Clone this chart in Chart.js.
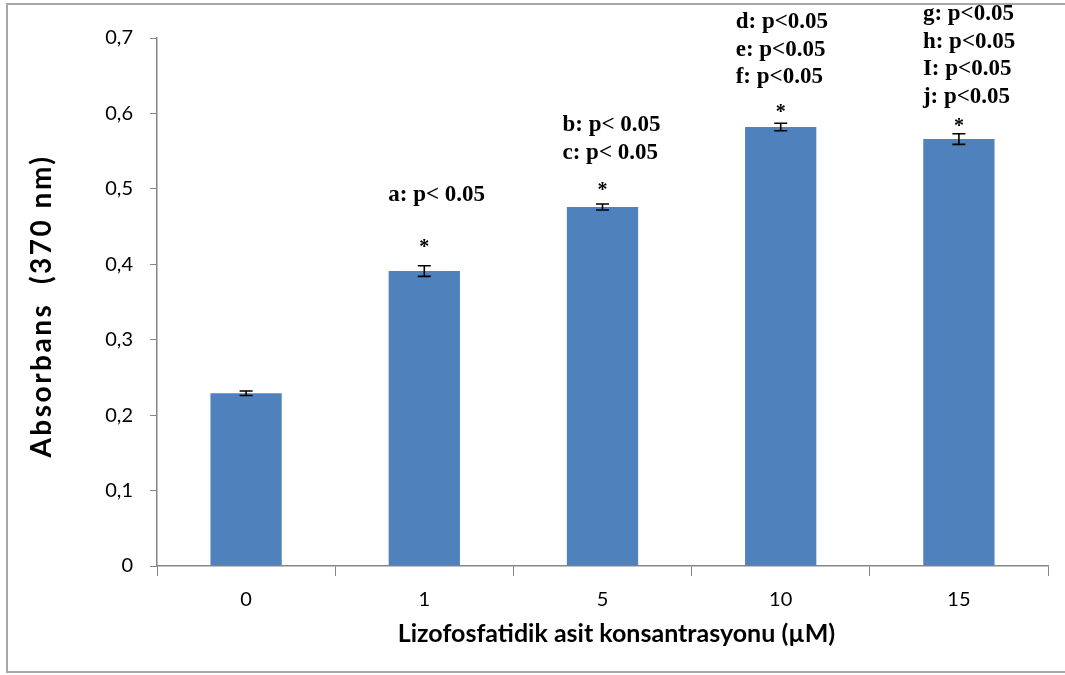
<!DOCTYPE html>
<html><head><meta charset="utf-8">
<script src="https://cdn.jsdelivr.net/npm/chart.js@4.4.0/dist/chart.umd.min.js"></script>
<style>
html,body{margin:0;padding:0;background:#fff;overflow:hidden}
#wrap{position:relative;width:1065px;height:675px}
#frame{position:absolute;left:6px;top:3px;width:1070px;height:670px;border:2px solid #a6a6a6;box-sizing:border-box}
canvas{position:absolute;left:0;top:0}
</style></head><body>
<div id="wrap"><div id="frame"></div><canvas id="c" width="1065" height="675"></canvas></div>
<script>
const categories = ['0', '1', '5', '10', '15'];
const absorbance = [0.229, 0.391, 0.476, 0.582, 0.566];
const errors = [0.003, 0.007, 0.004, 0.005, 0.007];
const starMarks = ['', '*', '*', '*', '*'];
const significance = [
  [],
  ['a: p< 0.05'],
  ['b: p< 0.05', 'c: p< 0.05'],
  ['d: p<0.05', 'e: p<0.05', 'f: p<0.05'],
  ['g: p<0.05', 'h: p<0.05', 'I: p<0.05', 'j: p<0.05']
];
const yTickValues = [0, 0.1, 0.2, 0.3, 0.4, 0.5, 0.6, 0.7];
const yTitle = 'Absorbans  (370 nm)';
const xTitle = 'Lizofosfatidik asit konsantrasyonu (µM)';

const annotationStyle = {
  starGap: [0, 23, 18, 15, 12],
  textGap: [0, 48, 33, 31, 25],
  lineStep: 27.5,
  textDx: [0, -36, -40, -45, -36]
};

const errorBarPlugin = {
  id: 'errorBars',
  afterDatasetsDraw(chart) {
    const ctx = chart.ctx, y = chart.scales.y;
    const meta = chart.getDatasetMeta(0);
    ctx.save();
    ctx.strokeStyle = '#000';
    ctx.lineWidth = 1.6;
    meta.data.forEach((bar, i) => {
      const v = absorbance[i], e = errors[i];
      const yt = y.getPixelForValue(v + e), yb = y.getPixelForValue(v - e);
      const x = bar.x, cw = 6.5;
      ctx.beginPath();
      ctx.moveTo(x, yt); ctx.lineTo(x, yb);
      ctx.moveTo(x - cw, yt); ctx.lineTo(x + cw, yt);
      ctx.moveTo(x - cw, yb); ctx.lineTo(x + cw, yb);
      ctx.stroke();
    });
    ctx.restore();
  }
};

const annotationPlugin = {
  id: 'sigNotes',
  afterDatasetsDraw(chart) {
    const ctx = chart.ctx, y = chart.scales.y;
    const meta = chart.getDatasetMeta(0);
    const s = annotationStyle;
    ctx.save();
    ctx.fillStyle = '#000';
    meta.data.forEach((bar, i) => {
      if (!starMarks[i]) return;
      const top = y.getPixelForValue(absorbance[i] + errors[i]);
      const starY = top - s.starGap[i];
      ctx.font = 'bold 20px "Liberation Serif", "Times New Roman", serif';
      ctx.textAlign = 'center';
      ctx.textBaseline = 'middle';
      ctx.fillText(starMarks[i], bar.x, starY + 5);
      const lines = significance[i];
      ctx.font = 'bold 23px "Liberation Serif", "Times New Roman", serif';
      ctx.textAlign = 'left';
      const lastY = starY - s.textGap[i];
      lines.forEach((t, k) => {
        const ly = lastY - (lines.length - 1 - k) * s.lineStep;
        ctx.fillText(t, bar.x + s.textDx[i], ly);
      });
    });
    ctx.restore();
  }
};

const axisTitlePlugin = {
  id: 'axisTitles',
  afterDraw(chart) {
    const ctx = chart.ctx, area = chart.chartArea;
    ctx.save();
    ctx.fillStyle = '#000';
    ctx.textAlign = 'center';
    ctx.textBaseline = 'middle';
    ctx.font = 'bold 25px Lato, "Open Sans", sans-serif';
    ctx.letterSpacing = '0px';
    ctx.fillText(xTitle, (area.left + area.right) / 2 + 14, 634);
    ctx.translate(42, (area.top + area.bottom) / 2 + 5);
    ctx.rotate(-Math.PI / 2);
    ctx.font = 'bold 28px Lato, "Open Sans", sans-serif';
    ctx.letterSpacing = '2.5px';
    ctx.fillText(yTitle, 1, 0);
    ctx.restore();
  }
};

const axisColor = '#868686';
const tickFont = { family: 'Lato, "Open Sans", sans-serif', size: 20 };
new Chart(document.getElementById('c'), {
  type: 'bar',
  data: {
    labels: categories,
    datasets: [{
      data: absorbance,
      backgroundColor: '#4F81BD',
      borderWidth: 0,
      categoryPercentage: 1,
      barPercentage: 0.4
    }]
  },
  options: {
    responsive: false,
    animation: false,
    devicePixelRatio: 1,
    layout: { padding: { top: 38, right: 17, bottom: 0, left: 0 } },
    plugins: { legend: { display: false }, tooltip: { enabled: false } },
    scales: {
      x: {
        offset: true,
        grid: { display: true, drawOnChartArea: false, drawTicks: true, tickLength: 10, color: axisColor, offset: true },
        border: { display: true, color: axisColor, width: 1.5 },
        ticks: { color: '#000', font: tickFont, padding: 12 },
        afterFit(scale) { scale.height = 675 - 566; }
      },
      y: {
        min: 0, max: 0.7,
        afterBuildTicks(scale) { scale.ticks = yTickValues.map(v => ({ value: v })); },
        grid: { display: true, drawOnChartArea: false, drawTicks: true, tickLength: 7, color: axisColor },
        border: { display: true, color: axisColor, width: 1.5 },
        ticks: {
          color: '#000', padding: 17, font: tickFont,
          callback: v => v === 0 ? '0' : v.toFixed(1).replace('.', ',')
        },
        afterFit(scale) { scale.width = 157; }
      }
    }
  },
  plugins: [errorBarPlugin, annotationPlugin, axisTitlePlugin]
});
</script>
</body></html>
